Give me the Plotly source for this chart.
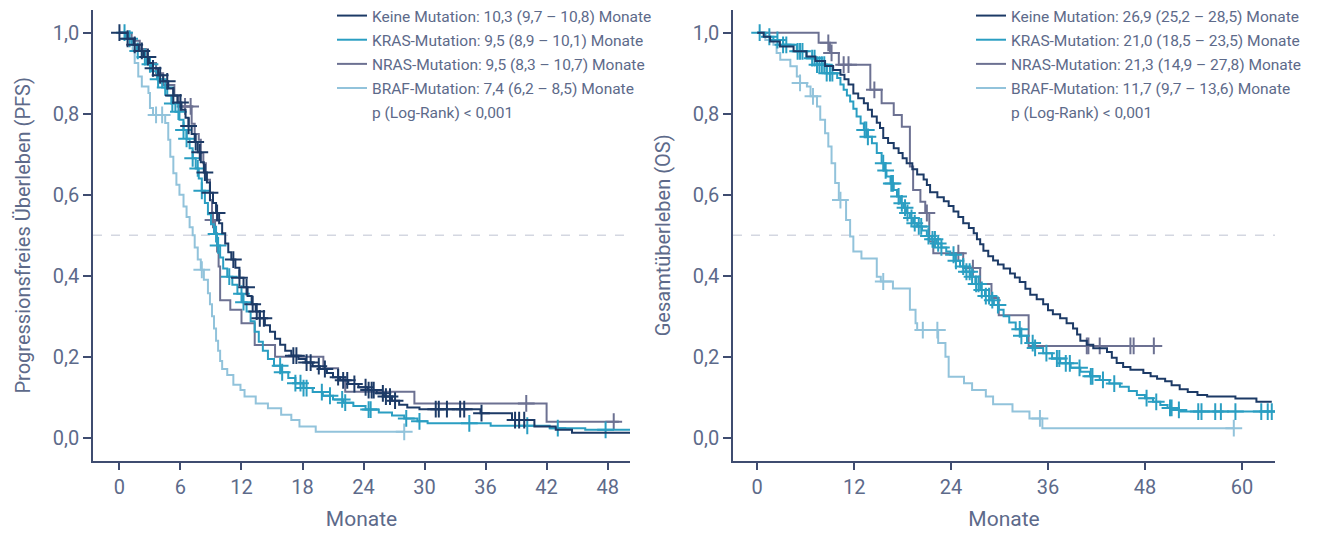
import plotly.graph_objects as go
import bisect

# ---------------- DATA ----------------
# PFS (left panel): step times (months) and survival from that time on
pfs_keine_t = [0, 0.8, 1.4, 1.9, 2.4, 2.9, 3.3, 3.8, 4.3, 4.8, 5.3, 5.7, 6.1, 6.5, 6.8, 7.1, 7.4, 7.7, 8.0, 8.3,
               8.6, 8.9, 9.2, 9.5, 9.8, 10.1, 10.4, 10.7, 11.0, 11.4, 11.8, 12.2, 12.6, 13.0, 13.4, 13.8, 14.3,
               14.8, 15.3, 15.8, 16.3, 16.9, 17.6, 18.3, 19.0, 19.7, 20.4, 21.0, 21.7, 22.5, 23.5, 24.4, 25.3,
               26.0, 26.8, 27.5, 28.3, 29.5, 35.5, 38.6, 40.8, 42.9, 44.5, 50.2]
pfs_keine_s = [1.0, 0.985, 0.97, 0.955, 0.94, 0.925, 0.912, 0.895, 0.88, 0.862, 0.845, 0.828, 0.81, 0.79, 0.77,
               0.75, 0.73, 0.705, 0.68, 0.655, 0.63, 0.605, 0.58, 0.555, 0.53, 0.505, 0.48, 0.458, 0.44, 0.42,
               0.395, 0.372, 0.35, 0.33, 0.312, 0.295, 0.278, 0.262, 0.245, 0.23, 0.215, 0.203, 0.195, 0.186,
               0.177, 0.17, 0.16, 0.15, 0.142, 0.133, 0.125, 0.118, 0.11, 0.102, 0.092, 0.082, 0.075, 0.071,
               0.061, 0.044, 0.028, 0.02, 0.013, 0.013]
pfs_keine_cens = [0, 0.8, 1.5, 2.2, 2.8, 3.3, 4.0, 4.7, 5.3, 6.0, 6.8, 7.5, 7.9, 8.4, 8.9, 9.6, 11.2, 11.8, 12.5,
                  13.1, 13.5, 13.8, 14.2, 17.1, 17.4, 18.4, 18.8, 19.6, 20.2, 21.5, 22.0, 22.4, 23.1, 24.2, 24.5,
                  24.8, 25.0, 25.9, 26.2, 26.6, 27.1, 31.1, 31.4, 32.2, 33.5, 33.9, 35.6, 38.9, 39.3, 39.8]

pfs_kras_t = [0, 0.6, 1.2, 1.7, 2.2, 2.7, 3.2, 3.7, 4.2, 4.7, 5.1, 5.5, 5.9, 6.3, 6.6, 6.9, 7.2, 7.5, 7.8, 8.1,
              8.4, 8.7, 9.0, 9.3, 9.6, 9.9, 10.2, 10.6, 11.1, 11.6, 12.1, 12.5, 12.9, 13.3, 13.7, 14.1, 14.6,
              15.2, 15.9, 16.6, 17.3, 18.1, 19.0, 20.0, 21.0, 22.0, 23.0, 24.2, 25.5, 26.8, 28.0, 29.3, 30.3,
              36.5, 42.3, 45.8, 50.2]
pfs_kras_s = [1.0, 0.985, 0.97, 0.955, 0.94, 0.922, 0.905, 0.885, 0.865, 0.845, 0.825, 0.805, 0.785, 0.76,
              0.738, 0.715, 0.69, 0.665, 0.64, 0.61, 0.58, 0.552, 0.527, 0.503, 0.475, 0.445, 0.418, 0.398,
              0.378, 0.356, 0.335, 0.312, 0.288, 0.262, 0.237, 0.215, 0.195, 0.178, 0.162, 0.148, 0.135, 0.123,
              0.113, 0.104, 0.095, 0.087, 0.079, 0.07, 0.063, 0.055, 0.048, 0.041, 0.036, 0.03, 0.024, 0.02, 0.02]
pfs_kras_cens = [0.5, 1.0, 1.8, 2.5, 3.0, 3.8, 4.5, 5.2, 5.8, 6.3, 6.6, 7.2, 7.7, 8.1, 9.5, 9.7, 10.8, 12.0,
                 12.2, 15.8, 16.0, 17.3, 17.8, 18.1, 18.4, 19.9, 20.7, 21.9, 22.2, 24.5, 24.7, 28.2, 29.5, 34.4,
                 40.1, 43.1, 47.8]

pfs_nras_t = [0, 1.2, 2.0, 2.6, 3.0, 3.6, 4.3, 5.4, 5.8, 7.1, 7.4, 7.8, 8.0, 8.25, 8.5, 8.9, 9.1, 9.4, 9.6,
              9.75, 9.9, 10.9, 12.0, 13.3, 15.3, 20.05, 21.5, 22.2, 29.0, 42.0, 49.1]
pfs_nras_s = [1.0, 0.98, 0.96, 0.94, 0.925, 0.9, 0.871, 0.845, 0.818, 0.775, 0.75, 0.736, 0.703, 0.678, 0.637,
              0.587, 0.538, 0.505, 0.46, 0.423, 0.34, 0.316, 0.283, 0.229, 0.2, 0.172, 0.15, 0.114, 0.085,
              0.04, 0.04]
pfs_nras_cens = [6.45, 7.0, 9.2, 40.0, 48.6]

pfs_braf_t = [0, 0.8, 1.3, 1.5, 1.85, 2.2, 2.85, 3.0, 3.3, 4.5, 4.8, 5.0, 5.3, 5.6, 5.9, 6.3, 6.6, 6.9, 7.2,
              7.4, 7.7, 8.0, 8.3, 8.7, 8.9, 9.1, 9.3, 9.5, 9.7, 9.9, 10.1, 10.6, 11.2, 11.9, 12.3, 13.4, 14.6,
              15.9, 16.9, 17.7, 19.3, 28.0]
pfs_braf_s = [1.0, 0.985, 0.958, 0.925, 0.892, 0.867, 0.851, 0.814, 0.797, 0.777, 0.736, 0.694, 0.653, 0.625,
              0.6, 0.571, 0.545, 0.52, 0.5, 0.47, 0.44, 0.415, 0.39, 0.357, 0.33, 0.3, 0.27, 0.24, 0.215, 0.19,
              0.17, 0.155, 0.131, 0.118, 0.102, 0.085, 0.073, 0.057, 0.044, 0.028, 0.015, 0.015]
pfs_braf_cens = [3.6, 4.2, 8.1, 28.0]

# OS (right panel)
os_keine_t = [0, 0.8, 1.6, 2.8, 4.5, 6.1, 7.2, 8.4, 9.4, 10.3, 10.8, 11.3, 11.9, 12.5, 13.2, 13.7, 14.2, 14.8,
              15.2, 15.6, 16.2, 16.9, 17.5, 18.0, 18.5, 19.2, 19.8, 20.6, 21.0, 21.4, 22.3, 23.1, 23.7, 24.3,
              24.9, 25.5, 26.2, 26.8, 27.2, 27.6, 28.0, 28.6, 29.2, 29.8, 30.5, 31.3, 31.9, 32.5, 33.2, 33.8,
              34.6, 35.4, 36.0, 36.6, 37.5, 38.3, 39.1, 39.6, 40.0, 40.8, 41.6, 43.3, 43.9, 44.5, 45.3, 46.2,
              47.8, 48.7, 49.5, 50.5, 51.3, 52.3, 53.3, 54.5, 55.7, 59.2, 61.8, 63.7]
os_keine_s = [1.0, 0.99, 0.978, 0.966, 0.954, 0.941, 0.93, 0.918, 0.908, 0.896, 0.885, 0.872, 0.85, 0.838,
              0.826, 0.81, 0.793, 0.778, 0.765, 0.74, 0.728, 0.715, 0.703, 0.69, 0.678, 0.663, 0.65, 0.638,
              0.624, 0.606, 0.594, 0.584, 0.572, 0.559, 0.545, 0.53, 0.518, 0.505, 0.49, 0.478, 0.462, 0.448,
              0.438, 0.428, 0.418, 0.406, 0.396, 0.385, 0.368, 0.353, 0.342, 0.33, 0.315, 0.305, 0.295, 0.283,
              0.27, 0.255, 0.24, 0.23, 0.221, 0.212, 0.198, 0.185, 0.175, 0.168, 0.16, 0.152, 0.146, 0.14, 0.13,
              0.12, 0.113, 0.106, 0.102, 0.097, 0.089, 0.089]
os_keine_cens = []

os_kras_t = [0, 1.0, 2.0, 3.2, 4.9, 6.1, 7.4, 8.6, 9.9, 10.3, 10.7, 11.1, 11.5, 11.9, 12.3, 12.8, 13.2, 13.7,
             14.2, 14.8, 15.4, 15.7, 16.0, 16.5, 16.9, 17.3, 17.7, 18.1, 18.5, 18.9, 19.3, 19.8, 20.4, 21.0,
             21.6, 22.2, 22.8, 23.4, 23.9, 24.5, 25.1, 25.8, 26.4, 27.0, 27.6, 28.2, 28.8, 29.3, 29.9, 30.5,
             31.2, 32.0, 32.6, 33.4, 34.2, 35.4, 36.5, 37.5, 38.8, 40.0, 41.2, 42.4, 43.6, 44.9, 46.0, 47.0,
             48.0, 49.0, 49.9, 50.8, 51.7, 52.4, 64.1]
os_kras_s = [1.0, 0.99, 0.982, 0.97, 0.954, 0.937, 0.921, 0.9, 0.888, 0.872, 0.859, 0.845, 0.83, 0.812, 0.793,
             0.776, 0.76, 0.743, 0.727, 0.703, 0.678, 0.66, 0.645, 0.628, 0.612, 0.596, 0.579, 0.568, 0.555,
             0.543, 0.53, 0.522, 0.512, 0.498, 0.49, 0.48, 0.47, 0.46, 0.452, 0.437, 0.423, 0.41, 0.398, 0.38,
             0.365, 0.35, 0.34, 0.328, 0.316, 0.3, 0.285, 0.268, 0.252, 0.234, 0.222, 0.209, 0.196, 0.184,
             0.173, 0.163, 0.152, 0.143, 0.134, 0.126, 0.116, 0.106, 0.098, 0.089, 0.081, 0.074, 0.069, 0.065,
             0.065]
os_kras_cens = [0.3, 1.5, 2.5, 3.2, 3.6, 5.0, 5.3, 5.6, 6.8, 7.1, 7.4, 7.7, 8.0, 8.3, 8.6, 9.0, 9.3, 13.3, 13.5,
                13.7, 15.6, 15.9, 16.6, 16.8, 17.5, 17.9, 18.3, 18.6, 19.1, 19.5, 20.0, 20.3, 21.2, 21.7, 22.0,
                22.4, 22.8, 24.3, 24.6, 25.5, 25.9, 26.3, 26.6, 27.1, 27.4, 27.8, 28.3, 28.7, 29.1, 29.8, 32.5,
                32.7, 34.1, 34.4, 35.8, 37.1, 37.4, 38.2, 38.7, 39.9, 41.3, 41.5, 42.8, 44.2, 48.2, 49.4, 51.1,
                51.3, 52.2, 54.6, 55.0, 56.7, 57.4, 59.2, 62.4, 63.2, 63.7]

os_nras_t = [0, 7.6, 9.0, 10.1, 14.0, 15.4, 16.9, 17.9, 18.9, 19.3, 20.2, 20.8, 21.3, 21.8, 25.5, 27.6, 29.0,
             29.9, 33.6, 49.9]
os_nras_s = [1.0, 0.975, 0.95, 0.921, 0.859, 0.826, 0.797, 0.768, 0.67, 0.612, 0.583, 0.555, 0.485, 0.456,
             0.419, 0.38, 0.345, 0.303, 0.227, 0.227]
os_nras_cens = [8.8, 9.2, 10.7, 11.3, 14.5, 21.0, 24.9, 26.7, 40.8, 41.0, 42.4, 46.2, 46.6, 49.1]

os_braf_t = [0, 1.0, 2.0, 2.4, 2.85, 4.1, 4.9, 5.3, 6.15, 6.6, 7.4, 7.8, 8.4, 8.8, 9.2, 9.65, 10.1, 11.0, 11.5,
             11.9, 12.9, 14.8, 15.3, 16.8, 18.9, 19.6, 19.8, 22.4, 23.3, 23.7, 25.6, 26.6, 28.3, 29.2, 31.6,
             33.7, 35.3, 59.0]
os_braf_s = [1.0, 0.982, 0.97, 0.95, 0.933, 0.917, 0.892, 0.876, 0.867, 0.843, 0.818, 0.785, 0.752, 0.719,
             0.678, 0.629, 0.587, 0.538, 0.497, 0.46, 0.443, 0.398, 0.386, 0.369, 0.316, 0.283, 0.266, 0.234,
             0.2, 0.151, 0.135, 0.118, 0.102, 0.083, 0.065, 0.048, 0.024, 0.024]
os_braf_cens = [5.3, 6.9, 10.3, 15.6, 20.5, 22.3, 35.0, 59.0]

pfs_labels = ["Keine Mutation: 10,3 (9,7 – 10,8) Monate",
              "KRAS-Mutation: 9,5 (8,9 – 10,1) Monate",
              "NRAS-Mutation: 9,5 (8,3 – 10,7) Monate",
              "BRAF-Mutation: 7,4 (6,2 – 8,5) Monate"]
os_labels = ["Keine Mutation: 26,9 (25,2 – 28,5) Monate",
             "KRAS-Mutation: 21,0 (18,5 – 23,5) Monate",
             "NRAS-Mutation: 21,3 (14,9 – 27,8) Monate",
             "BRAF-Mutation: 11,7 (9,7 – 13,6) Monate"]
p_label = "p (Log-Rank) < 0,001"

pfs_xticks = [0, 6, 12, 18, 24, 30, 36, 42, 48]
os_xticks = [0, 12, 24, 36, 48, 60]
y_ticks = [0.0, 0.2, 0.4, 0.6, 0.8, 1.0]
y_ticklabels = ["0,0", "0,2", "0,4", "0,6", "0,8", "1,0"]

# ---------------- STYLE ----------------
colors = ["#1c3a66", "#2a9ec2", "#6c7192", "#92c3db"]
text_col = "#5d6a8a"
axis_col = "#3f4c70"
FONT = "Roboto"


def step_value(ts, ss, t):
    i = bisect.bisect_right(ts, t) - 1
    return ss[max(i, 0)]


fig = go.Figure()

panels = [
    ("x", "y", "legend", "a",
     [(pfs_keine_t, pfs_keine_s, pfs_keine_cens), (pfs_kras_t, pfs_kras_s, pfs_kras_cens),
      (pfs_nras_t, pfs_nras_s, pfs_nras_cens), (pfs_braf_t, pfs_braf_s, pfs_braf_cens)], pfs_labels),
    ("x2", "y2", "legend2", "b",
     [(os_keine_t, os_keine_s, os_keine_cens), (os_kras_t, os_kras_s, os_kras_cens),
      (os_nras_t, os_nras_s, os_nras_cens), (os_braf_t, os_braf_s, os_braf_cens)], os_labels),
]

for xa, ya, lg, pre, curves, labels in panels:
    order = [3, 2, 1, 0]  # BRAF first so darker curves sit on top
    for k in order:
        ts, ss, cens = curves[k]
        fig.add_trace(go.Scatter(x=ts, y=ss, mode="lines", line=dict(color=colors[k], width=2, shape="hv"),
                                 xaxis=xa, yaxis=ya, name=labels[k], legend=lg, legendrank=k + 1,
                                 legendgroup=pre + str(k), hoverinfo="skip"))
        if cens:
            fig.add_trace(go.Scatter(x=cens, y=[step_value(ts, ss, c) for c in cens], mode="markers",
                                     marker=dict(symbol="cross-thin", size=12,
                                                 line=dict(color=colors[k], width=2)),
                                     xaxis=xa, yaxis=ya, showlegend=False, hoverinfo="skip"))
    fig.add_trace(go.Scatter(x=[None], y=[None], mode="lines", line=dict(color="rgba(0,0,0,0)", width=2),
                             xaxis=xa, yaxis=ya, name=p_label, legend=lg, legendrank=5,
                             legendgroup=pre + "p"))

# page body has an 8px margin: figure placed at (8, 8)
OFF = 8
W, H = 1319 - OFF, 533 - OFF


def px_x(v):
    return (v - OFF) / W


def px_y(v):
    return 1 - (v - OFF) / H


x1_dom = [px_x(93), px_x(630)]
x2_dom = [px_x(733), px_x(1275)]
y_dom = [px_y(460.6), px_y(10)]

axis_common = dict(showline=True, linecolor=axis_col, linewidth=1.5, ticks="outside", ticklen=8,
                   tickcolor=axis_col, tickwidth=1.5, showgrid=False, zeroline=False,
                   tickfont=dict(family=FONT, size=20, color=text_col))

legend_common = dict(xanchor="left", y=px_y(-1), yanchor="top", bgcolor="rgba(0,0,0,0)",
                     font=dict(family=FONT, size=15.5, color=text_col), traceorder="grouped",
                     tracegroupgap=1, itemwidth=30)

fig.update_layout(
    width=W, height=H, margin=dict(l=0, r=0, t=0, b=0, autoexpand=False),
    paper_bgcolor="white", plot_bgcolor="white",
    font=dict(family=FONT, color=text_col),
    xaxis=dict(domain=x1_dom, range=[-2.6, 50.2], tickvals=pfs_xticks, anchor="y",
               title=dict(text="Monate", font=dict(family=FONT, size=21, color=text_col), standoff=13),
               **axis_common),
    yaxis=dict(domain=y_dom, range=[-0.056, 1.056], tickvals=y_ticks, ticktext=y_ticklabels, anchor="x",
               title=dict(text="Progressionsfreies Überleben (PFS)", font=dict(family=FONT, size=20, color=text_col),
                          standoff=17),
               **axis_common),
    xaxis2=dict(domain=x2_dom, range=[-3.0, 64.1], tickvals=os_xticks, anchor="y2",
                title=dict(text="Monate", font=dict(family=FONT, size=21, color=text_col), standoff=13),
                **axis_common),
    yaxis2=dict(domain=y_dom, range=[-0.056, 1.056], tickvals=y_ticks, ticktext=y_ticklabels, anchor="x2",
                title=dict(text="Gesamtüberleben (OS)", font=dict(family=FONT, size=20, color=text_col),
                           standoff=17),
                **axis_common),
    legend=dict(x=px_x(372 - 40), **legend_common),
    legend2=dict(x=px_x(1011 - 40), **legend_common),
    shapes=[
        dict(type="line", xref="x domain", yref="y", x0=0, x1=1, y0=0.5, y1=0.5, layer="below",
             line=dict(color="#d4d7e1", width=1.5, dash="dash")),
        dict(type="line", xref="x2 domain", yref="y2", x0=0, x1=1, y0=0.5, y1=0.5, layer="below",
             line=dict(color="#d4d7e1", width=1.5, dash="dash")),
    ],
)

fig.write_html("out.html")
